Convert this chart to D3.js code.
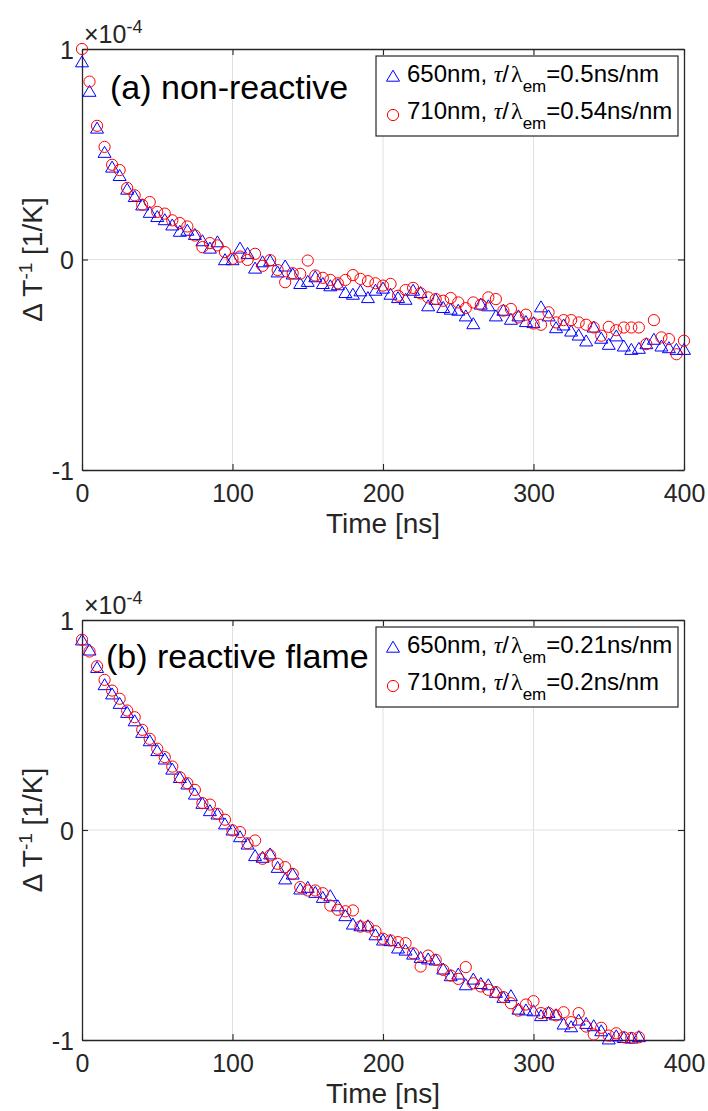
<!DOCTYPE html>
<html><head><meta charset="utf-8">
<script src="https://cdn.jsdelivr.net/npm/d3@7"></script>
<style>
html,body{margin:0;padding:0;background:#fff;}
svg{display:block;}
text{font-family:"Liberation Sans",Arial,Helvetica,sans-serif;}
</style></head>
<body><svg id="chart" width="708" height="1111"></svg>
<script>
// ---------- data (values in units of 1e-4 1/K) ----------
const timeA = [0,5,10,15,20,25,30,35,40,45,50,55,60,65,70,75,80,85,90,95,100,105,110,115,120,125,130,135,140,145,150,155,160,165,170,175,180,185,190,195,200,205,210,215,220,225,230,235,240,245,250,255,260,265,270,275,280,285,290,295,300,305,310,315,320,325,330,335,340,345,350,355,360,365,370,375,380,385,390,395,400];
const a650 = [0.94,0.80,0.625,0.51,0.44,0.40,0.335,0.30,0.26,0.225,0.205,0.19,0.165,0.135,0.14,0.12,0.09,0.055,0.085,0.0,0.0,0.055,0.03,-0.04,-0.01,-0.005,-0.058,-0.03,-0.068,-0.113,-0.103,-0.081,-0.113,-0.124,-0.119,-0.156,-0.164,-0.148,-0.18,-0.145,-0.135,-0.164,-0.18,-0.188,-0.145,-0.156,-0.219,-0.188,-0.227,-0.235,-0.24,-0.267,-0.304,-0.211,-0.219,-0.267,-0.24,-0.283,-0.267,-0.294,-0.299,-0.224,-0.267,-0.323,-0.31,-0.339,-0.358,-0.386,-0.32,-0.373,-0.402,-0.362,-0.41,-0.426,-0.421,-0.399,-0.378,-0.41,-0.418,-0.426,-0.426];
const a710 = [1.0,0.845,0.635,0.535,0.45,0.425,0.34,0.305,0.26,0.273,0.226,0.218,0.186,0.173,0.157,0.114,0.059,0.078,0.067,0.035,0.003,0.014,-0.002,0.027,-0.03,-0.003,-0.05,-0.108,-0.065,-0.068,-0.005,-0.076,-0.087,-0.097,-0.113,-0.097,-0.074,-0.092,-0.103,-0.113,-0.124,-0.116,-0.172,-0.145,-0.135,-0.161,-0.18,-0.188,-0.196,-0.183,-0.204,-0.231,-0.204,-0.215,-0.18,-0.188,-0.243,-0.235,-0.275,-0.262,-0.304,-0.31,-0.251,-0.299,-0.288,-0.288,-0.299,-0.31,-0.323,-0.362,-0.32,-0.336,-0.323,-0.323,-0.323,-0.402,-0.288,-0.37,-0.378,-0.45,-0.386];

const timeB = [0,5,10,15,20,25,30,35,40,45,50,55,60,65,70,75,80,85,90,95,100,105,110,115,120,125,130,135,140,145,150,155,160,165,170,175,180,185,190,195,200,205,210,215,220,225,230,235,240,245,250,255,260,265,270,275,280,285,290,295,300,305,310,315,320,325,330,335,340,345,350,355,360,365,370];
const b650 = [0.906,0.858,0.775,0.693,0.649,0.604,0.561,0.521,0.466,0.426,0.379,0.339,0.291,0.251,0.22,0.172,0.128,0.093,0.077,0.03,0.001,-0.031,-0.066,-0.121,-0.129,-0.113,-0.177,-0.232,-0.209,-0.28,-0.272,-0.296,-0.32,-0.312,-0.36,-0.407,-0.447,-0.455,-0.455,-0.498,-0.523,-0.526,-0.561,-0.571,-0.59,-0.606,-0.613,-0.618,-0.661,-0.693,-0.685,-0.736,-0.709,-0.73,-0.736,-0.772,-0.796,-0.788,-0.852,-0.856,-0.86,-0.883,-0.868,-0.879,-0.923,-0.936,-0.904,-0.92,-0.931,-0.955,-0.994,-0.979,-0.987,-0.99,-0.983];
const b710 = [0.906,0.85,0.78,0.715,0.664,0.625,0.569,0.537,0.477,0.434,0.387,0.347,0.302,0.251,0.223,0.191,0.128,0.121,0.077,0.049,-0.002,-0.01,-0.063,-0.05,-0.137,-0.121,-0.161,-0.177,-0.209,-0.272,-0.288,-0.288,-0.301,-0.36,-0.38,-0.387,-0.383,-0.46,-0.46,-0.482,-0.518,-0.526,-0.534,-0.539,-0.587,-0.65,-0.598,-0.618,-0.666,-0.693,-0.709,-0.653,-0.73,-0.745,-0.761,-0.772,-0.796,-0.825,-0.86,-0.831,-0.815,-0.872,-0.872,-0.883,-0.868,-0.915,-0.872,-0.936,-0.974,-0.942,-0.979,-0.968,-0.987,-0.99,-0.987];

const xTicks = [0,100,200,300,400];
const yTicks = [-1,0,1];
const panelTitles = ["(a) non-reactive","(b) reactive flame"];
const legendLabelsA = [["650nm, ","=0.5ns/nm"],["710nm, ","=0.54ns/nm"]];
const legendLabelsB = [["650nm, ","=0.21ns/nm"],["710nm, ","=0.2ns/nm"]];
const xLabel = "Time [ns]";

// ---------- drawing ----------
const svg = d3.select("#chart");
const AX = "#262626", GRID = "#e0e0e0";
const L = 82, R = 684;
const fmt = d => String(d); // plain hyphen minus like MATLAB

const panels = [
  {top:49, bottom:470, title:panelTitles[0], tx:110, ty:99, t:timeA, s1:a650, s2:a710, leg:legendLabelsA},
  {top:620, bottom:1040, title:panelTitles[1], tx:106, ty:668, t:timeB, s1:b650, s2:b710, leg:legendLabelsB}
];

const triPath = "M0,-5.8L6.5,5.2L-6.5,5.2Z";

function legendText(g, x, y, parts){
  const t = g.append("text").attr("x",x).attr("y",y).attr("font-size",24).attr("fill","#000");
  t.append("tspan").text(parts[0]);
  t.append("tspan").attr("font-family","'Liberation Serif','DejaVu Serif',serif").attr("font-style","italic").text("\u03C4");
  t.append("tspan").text("/");
  t.append("tspan").attr("font-family","'Liberation Serif','DejaVu Serif',serif").attr("dx",2).text("\u03BB");
  t.append("tspan").attr("font-size",17).attr("dy",10).text("em");
  t.append("tspan").attr("dy",-10).text(parts[1]);
}

panels.forEach(p => {
  const x = d3.scaleLinear().domain([0,400]).range([L,R]);
  const y = d3.scaleLinear().domain([-1,1]).range([p.bottom,p.top]);
  const g = svg.append("g");

  // grid
  g.append("g").selectAll("line").data(xTicks.slice(1,-1)).join("line")
    .attr("x1",d=>x(d)).attr("x2",d=>x(d)).attr("y1",p.top).attr("y2",p.bottom)
    .attr("stroke",GRID).attr("stroke-width",1);
  g.append("g").selectAll("line").data(yTicks.slice(1,-1)).join("line")
    .attr("y1",d=>y(d)).attr("y2",d=>y(d)).attr("x1",L).attr("x2",R)
    .attr("stroke",GRID).attr("stroke-width",1);

  // axes
  const styleAxis = sel => {
    sel.selectAll("path").attr("stroke",AX).attr("stroke-width",1.3);
    sel.selectAll("line").attr("stroke",AX).attr("stroke-width",1.1);
    sel.selectAll("text").attr("fill",AX).attr("font-size",25)
      .attr("font-family","'Liberation Sans',Arial,sans-serif");
  };
  g.append("g").attr("transform",`translate(0,${p.bottom})`)
    .call(d3.axisBottom(x).tickValues(xTicks).tickSizeInner(-6).tickSizeOuter(0).tickPadding(14).tickFormat(fmt))
    .call(styleAxis);
  g.append("g").attr("transform",`translate(0,${p.top})`)
    .call(d3.axisTop(x).tickValues(xTicks).tickSizeInner(-6).tickSizeOuter(0).tickFormat(""))
    .call(styleAxis);
  g.append("g").attr("transform",`translate(${L},0)`)
    .call(d3.axisLeft(y).tickValues(yTicks).tickSizeInner(-6).tickSizeOuter(0).tickPadding(8).tickFormat(fmt))
    .call(styleAxis)
    .selectAll("text").attr("dy","0.36em");
  g.append("g").attr("transform",`translate(${R},0)`)
    .call(d3.axisRight(y).tickValues(yTicks).tickSizeInner(-6).tickSizeOuter(0).tickFormat(""))
    .call(styleAxis);
  g.selectAll(".domain").attr("fill","none");

  // exponent label
  const ex = g.append("text").attr("x",84).attr("y",p.top-6).attr("fill",AX).attr("font-size",25);
  ex.append("tspan").text("\u00D710");
  ex.append("tspan").attr("font-size",18).attr("dy",-10).text("-4");

  // axis labels
  g.append("text").attr("x",(L+R)/2).attr("y",p.bottom+63).attr("text-anchor","middle")
    .attr("fill",AX).attr("font-size",28).text(xLabel);
  const yl = g.append("text").attr("transform",`translate(42,${(p.top+p.bottom)/2}) rotate(-90)`)
    .attr("text-anchor","middle").attr("fill",AX).attr("font-size",28);
  yl.append("tspan").text("\u0394 T");
  yl.append("tspan").attr("font-size",19).attr("dy",-10).text("-1");
  yl.append("tspan").attr("dy",10).text("  [1/K]");

  // data
  const pts1 = p.t.map((t,i)=>[t,p.s1[i]]);
  const pts2 = p.t.map((t,i)=>[t,p.s2[i]]);
  g.append("g").selectAll("path").data(pts1).join("path")
    .attr("d",triPath).attr("transform",d=>`translate(${x(d[0])},${y(d[1])})`)
    .attr("fill","none").attr("stroke","#0000ff").attr("stroke-width",1);
  g.append("g").selectAll("circle").data(pts2).join("circle")
    .attr("cx",d=>x(d[0])).attr("cy",d=>y(d[1])).attr("r",5.6)
    .attr("fill","none").attr("stroke","#ff0000").attr("stroke-width",1);

  // title
  g.append("text").attr("x",p.tx).attr("y",p.ty).attr("font-size",34).attr("fill","#000").text(p.title);

  // legend
  const lg = g.append("g");
  lg.append("rect").attr("x",376).attr("y",p.top+7).attr("width",302).attr("height",80)
    .attr("fill","#fff").attr("stroke",AX).attr("stroke-width",1.2);
  lg.append("path").attr("d",triPath).attr("transform",`translate(393,${p.top+27})`)
    .attr("fill","none").attr("stroke","#0000ff").attr("stroke-width",1);
  lg.append("circle").attr("cx",393).attr("cy",p.top+66).attr("r",5.6)
    .attr("fill","none").attr("stroke","#ff0000").attr("stroke-width",1);
  legendText(lg, 407, p.top+33, p.leg[0]);
  legendText(lg, 407, p.top+70, p.leg[1]);
});
</script></body></html>
